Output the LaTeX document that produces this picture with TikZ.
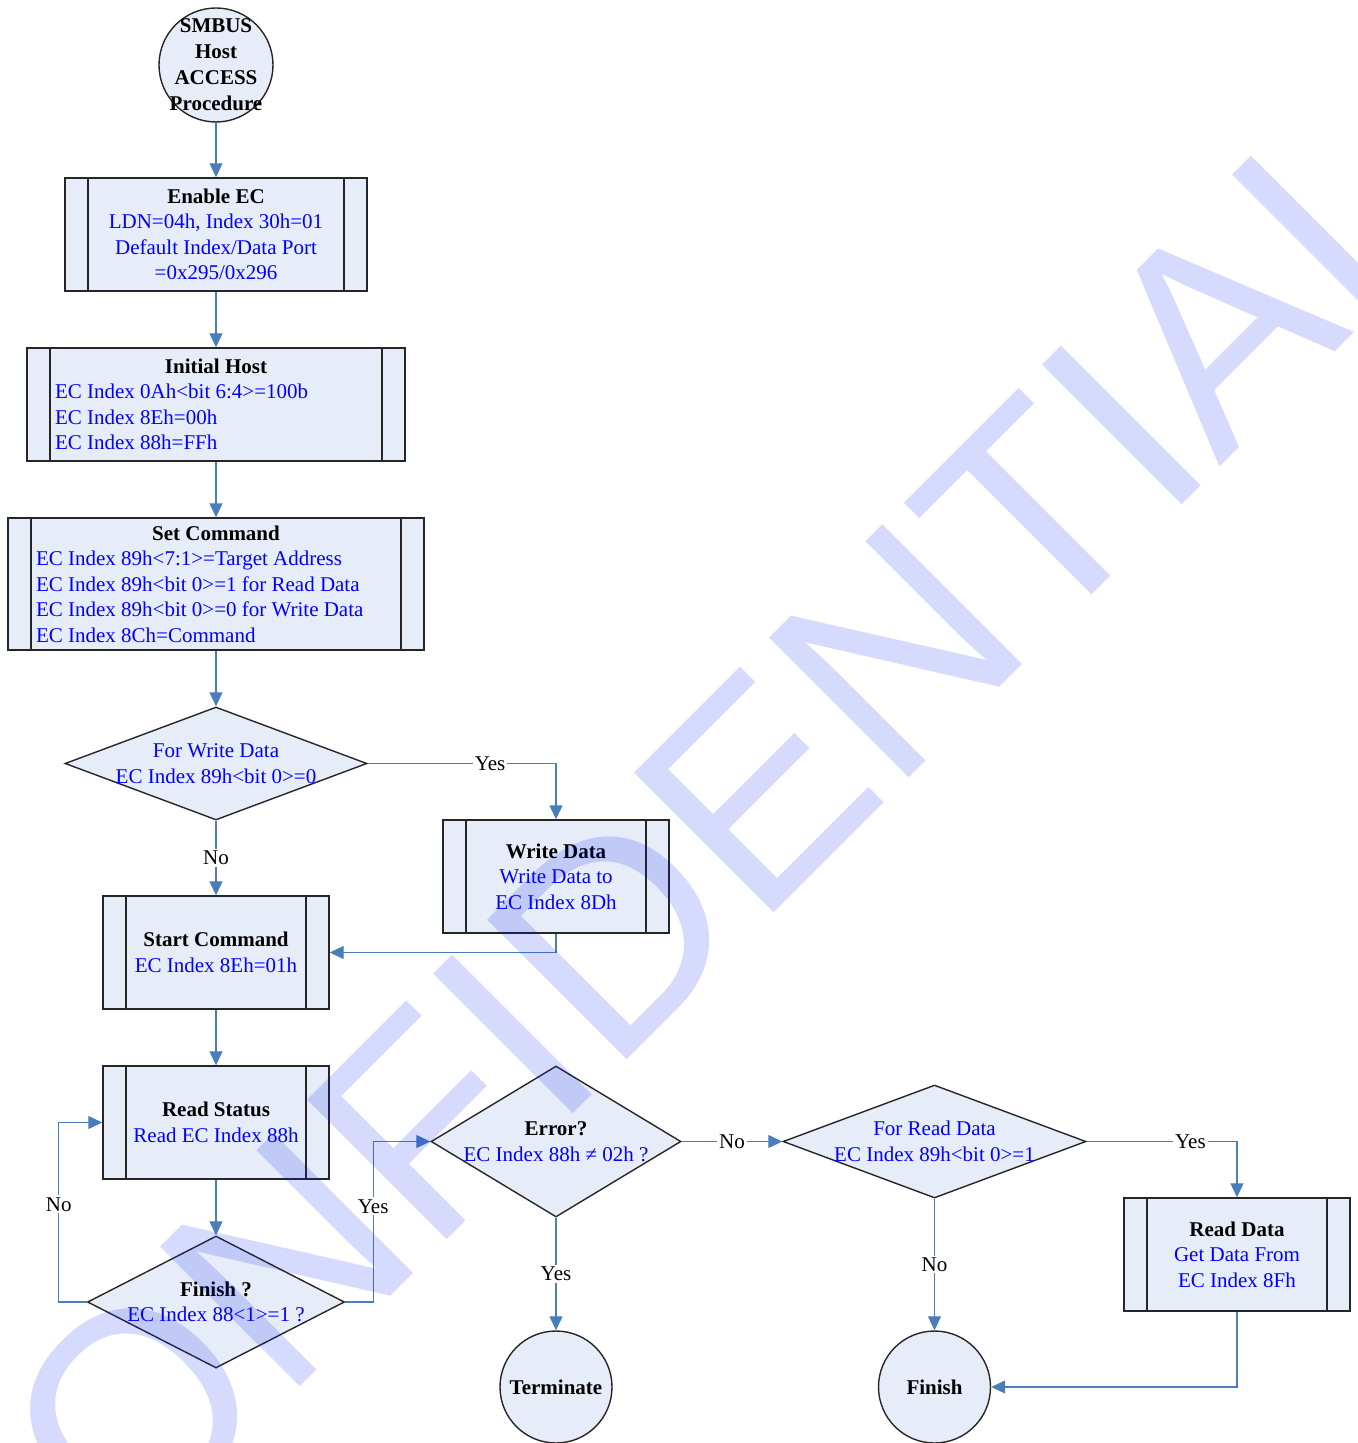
\documentclass[tikz,border=0pt]{standalone}
\usepackage{fontspec}
\setmainfont{Liberation Serif}
\newfontfamily\wmfont{Liberation Sans}
\usetikzlibrary{shapes.geometric,arrows.meta}
\definecolor{boxfill}{RGB}{231,237,248}
\definecolor{flowline}{RGB}{74,126,187}
\definecolor{wmblue}{RGB}{0,25,240}
\newcommand\ttl[1]{\textcolor{black}{\bfseries #1}}
\tikzset{
  shapebase/.style={draw=black!85, fill=boxfill, line width=0.7pt, inner sep=0pt,
    font=\fontsize{10.5pt}{12.75pt}\selectfont},
  proc/.style={shapebase, rectangle, text=blue, align=center, minimum width=113pt, minimum height=56.5pt,
    path picture={\draw[black!85, line width=0.7pt]
      ([xshift=11.5pt]path picture bounding box.north west) -- ([xshift=11.5pt]path picture bounding box.south west)
      ([xshift=-11.5pt]path picture bounding box.north east) -- ([xshift=-11.5pt]path picture bounding box.south east);}},
  dec/.style={shapebase, diamond},
  term/.style={shapebase, circle, minimum size=56pt, text=black,
    font=\bfseries\fontsize{10.5pt}{12.75pt}\selectfont},
  txt/.style={align=center, text=blue, inner sep=0pt, font=\fontsize{10.5pt}{12.75pt}\selectfont},
  flow/.style={draw=flowline, line width=0.6pt, -{Triangle[length=7pt,width=6.5pt]}},
  lbl/.style={fill=white, inner sep=1pt, text=black, font=\fontsize{10.5pt}{12.75pt}\selectfont},
  wmark/.style={anchor=base west, rotate=45, inner sep=0pt, text=wmblue, text opacity=0.16,
    font=\wmfont\fontsize{143.6pt}{150pt}\selectfont}
}
\begin{document}
\begin{tikzpicture}[x=0.5pt, y=-0.5pt]
\useasboundingbox (0,0) rectangle (1357,1443);
% left column
\node[term, minimum size=57pt] (sp) at (216,65) {};
\node[txt, text=black, font=\bfseries\fontsize{10.5pt}{13pt}\selectfont] (spt) at (sp) {SMBUS\\Host\\ACCESS\\Procedure};
\node[proc, minimum width=151pt] (en) at (216,234.5) {\ttl{Enable EC}\\LDN=04h, Index 30h=01\\Default Index/Data Port\\=0x295/0x296};
\node[proc, minimum width=189pt, text width=161pt, align=flush left] (ih) at (216,404.5) {\makebox[\hsize]{\ttl{Initial Host}}\\EC Index 0Ah<bit 6:4>=100b\\EC Index 8Eh=00h\\EC Index 88h=FFh};
\node[proc, minimum width=208pt, minimum height=66pt, text width=180pt, align=flush left] (sc) at (216,584) {\makebox[\hsize]{\ttl{Set Command}}\\EC Index 89h<7:1>=Target Address\\EC Index 89h<bit 0>=1 for Read Data\\EC Index 89h<bit 0>=0 for Write Data\\EC Index 8Ch=Command};
\node[dec, minimum width=151pt, minimum height=56.5pt] (wq) at (216,763.5) {};
\node[txt] (wqt) at (wq) {For Write Data\\EC Index 89h<bit 0>=0};
\node[proc] (wd) at (556,876.5) {\ttl{Write Data}\\Write Data to\\EC Index 8Dh};
\node[proc] (st) at (216,952.5) {\ttl{Start Command}\\EC Index 8Eh=01h};
\node[proc] (rs) at (216,1122.5) {\ttl{Read Status}\\Read EC Index 88h};
\node[dec, minimum width=128.5pt, minimum height=66pt] (fq) at (216,1302) {};
\node[txt] (fqt) at (fq) {\ttl{Finish ?}\\EC Index 88<1>=1 ?};
% right part
\node[dec, minimum width=125pt, minimum height=75.5pt] (eq) at (556,1141.5) {};
\node[txt] (eqt) at (eq) {\ttl{Error?}\\EC Index 88h ≠ 02h ?};
\node[dec, minimum width=151.5pt, minimum height=56.5pt] (rq) at (934.5,1141.5) {};
\node[txt] (rqt) at (rq) {For Read Data\\EC Index 89h<bit 0>=1};
\node[proc] (rd) at (1237,1254.5) {\ttl{Read Data}\\Get Data From\\EC Index 8Fh};
\node[term] (tm) at (556,1387) {Terminate};
\node[term] (fn) at (934.5,1387) {Finish};
% connectors
\draw[flow] (sp) -- (en);
\draw[flow] (en) -- (ih);
\draw[flow] (ih) -- (sc);
\draw[flow] (sc) -- (wq);
\draw[flow] (wq.east) -| node[lbl, pos=0.325] {Yes} (wd.north);
\draw[flow] (wq) -- node[lbl] {No} (st);
\draw[flow] (wd.south) |- (st.east);
\draw[flow] (st) -- (rs);
\draw[flow] (rs) -- (fq);
\draw[flow] (fq.west) -- ++(-28,0) |- node[lbl, pos=0.272] {No} (rs.west);
\draw[flow] (fq.east) -- ++(28,0) |- node[lbl, pos=0.298] {Yes} (eq.west);
\draw[flow] (eq) -- node[lbl] {Yes} (tm);
\draw[flow] (eq) -- node[lbl] {No} (rq);
\draw[flow] (rq.east) -| node[lbl, pos=0.345] {Yes} (rd.north);
\draw[flow] (rq) -- node[lbl] {No} (fn);
\draw[flow] (rd.south) |- (fn.east);
% watermark
\begin{scope}
\clip (0,0) rectangle (1357,1443);
\node[wmark] (conf) at (-21.4,1708.3) {CONFIDENTIAL};
\end{scope}
\end{tikzpicture}
\end{document}
